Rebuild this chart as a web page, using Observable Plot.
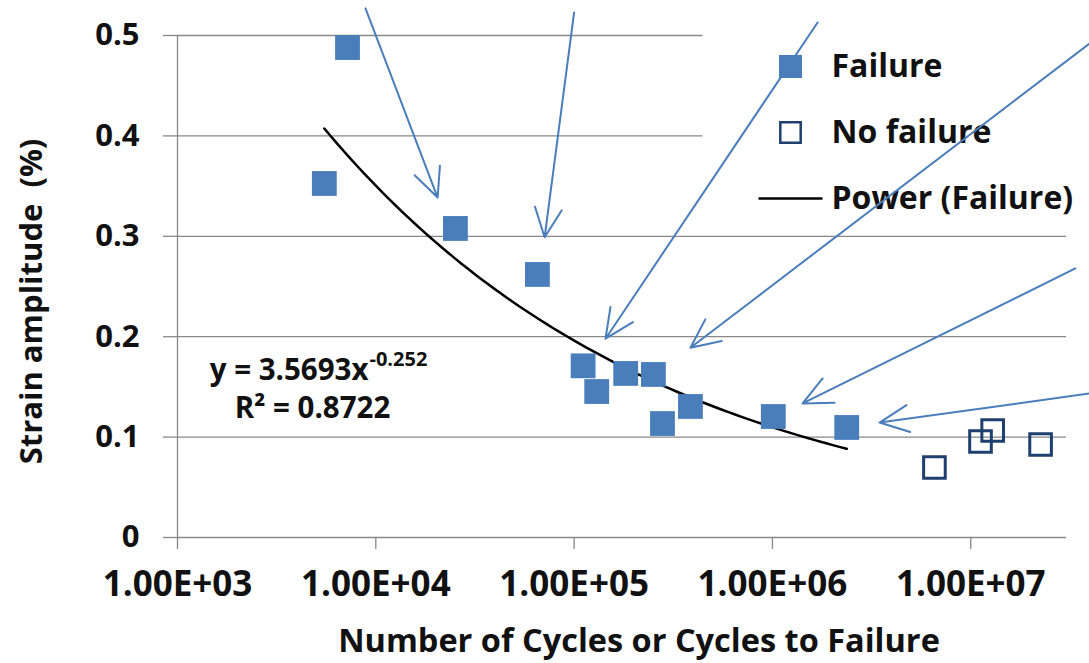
<!DOCTYPE html>
<html>
<head>
<meta charset="utf-8">
<script src="https://cdn.jsdelivr.net/npm/d3@7"></script>
<script src="https://cdn.jsdelivr.net/npm/@observablehq/plot@0.6"></script>
<style>
  html, body { margin: 0; padding: 0; background: #fff; }
  #chart { width: 1089px; height: 663px; overflow: hidden; }
  svg { font-family: "Open Sans", Lato, sans-serif; font-weight: bold; }
</style>
</head>
<body>
<div id="chart"></div>
<script>
// ---- data ----
const failureCycles = [5.5e3, 7.2e3, 2.52e4, 6.53e4, 1.11e5, 1.30e5, 1.82e5, 2.51e5, 2.79e5, 3.86e5, 1.01e6, 2.37e6];
const failureStrain = [0.3526, 0.488, 0.3078, 0.262, 0.171, 0.1454, 0.1634, 0.1624, 0.1135, 0.1305, 0.1205, 0.1096];
const noFailureCycles = [6.56e6, 1.12e7, 1.29e7, 2.25e7];
const noFailureStrain = [0.0697, 0.0956, 0.1066, 0.0926];

// power trendline label values (y = a * x^b)
const trendA = 3.5693;
const trendB = -0.252;
const trendEqMain = "y = 3.5693x";
const trendEqExp = "-0.252";
const trendR2 = "R² = 0.8722";

// annotation arrows (tail -> head), data units
const arrowFromCycles = [8.87e3, 1.0e5, 1.69e6, 3.97e7, 3.37e7, 3.97e7];
const arrowFromStrain = [0.527, 0.523, 0.513, 0.492, 0.268, 0.1434];
const arrowToCycles   = [2.05e4, 7.1e4, 1.44e5, 3.86e5, 1.42e6, 3.47e6];
const arrowToStrain   = [0.3386, 0.299, 0.198, 0.189, 0.1335, 0.1145];

const xTicks = [1e3, 1e4, 1e5, 1e6, 1e7];
const xTickLabels = ["1.00E+03", "1.00E+04", "1.00E+05", "1.00E+06", "1.00E+07"];
const yTicks = [0, 0.1, 0.2, 0.3, 0.4, 0.5];
const yTickLabels = ["0", "0.1", "0.2", "0.3", "0.4", "0.5"];
const xDomain = [1e3, 3.04e7];
const yDomain = [0, 0.5];

const xTitle = "Number of Cycles or Cycles to Failure";
const yTitle = "Strain amplitude  (%)";
const legendLabels = ["Failure", "No failure", "Power (Failure)"];
const legendBox = {x1: 4.47e5, x2: 3.04e7, y1: 0.31, y2: 0.51};

// ---- build tables ----
const failure = failureCycles.map((n, i) => ({n, s: failureStrain[i]}));
const noFailure = noFailureCycles.map((n, i) => ({n, s: noFailureStrain[i]}));
const arrows = arrowFromCycles.map((n, i) => ({
  x1: n, y1: arrowFromStrain[i], x2: arrowToCycles[i], y2: arrowToStrain[i]
}));
const nMin = d3.min(failureCycles), nMax = d3.max(failureCycles);
const trend = d3.range(0, 81).map(k => {
  const n = Math.exp(Math.log(nMin) + (Math.log(nMax) - Math.log(nMin)) * k / 80);
  return {n, s: trendA * Math.pow(n, trendB)};
});

const blue = "#4a7ebb";
const darkBlue = "#1f3f6e";
const grid = "#888888";
const ink = "#111111";
const lineSymbol = {draw(ctx) { ctx.moveTo(-32, 0); ctx.lineTo(32, 0); }};
const font = "'Open Sans', Lato, sans-serif";

const legendText = (label, dy) => Plot.text([label], {
  frameAnchor: "top-right", dx: -235, dy, fontSize: 32,
  textAnchor: "start", lineAnchor: "middle", fill: ink
});

const chart = Plot.plot({
  width: 1089,
  height: 663,
  marginLeft: 177,
  marginRight: 23,
  marginTop: 35,
  marginBottom: 126,
  x: {type: "log", domain: xDomain},
  y: {domain: yDomain},
  style: {background: "#fff", color: ink, fontFamily: font},
  marks: [
    Plot.gridY(yTicks, {stroke: grid, strokeOpacity: 1, strokeWidth: 1.3}),
    Plot.ruleX([xDomain[0]], {stroke: grid, strokeWidth: 1.3}),
    Plot.axisY(yTicks, {
      tickSize: 14, tickPadding: 24, fontSize: 31, stroke: grid, strokeWidth: 1.3,
      fill: ink, tickFormat: d => yTickLabels[yTicks.indexOf(d)]
    }),
    Plot.axisX(xTicks, {
      tickSize: 12, tickPadding: 22, fontSize: 35, stroke: grid, strokeWidth: 1.3,
      fill: ink, tickFormat: d => xTickLabels[xTicks.indexOf(d)]
    }),
    Plot.text([yTitle], {
      frameAnchor: "left", rotate: -90, dx: -145, dy: 15, fontSize: 31,
      textAnchor: "middle", lineAnchor: "middle", fill: ink
    }),
    Plot.text([xTitle], {
      frameAnchor: "bottom", dx: 17, dy: 104, fontSize: 32.5,
      textAnchor: "middle", lineAnchor: "middle", fill: ink
    }),
    // legend background
    Plot.rect([legendBox], {x1: "x1", x2: "x2", y1: "y1", y2: "y2", fill: "#fff"}),
    // trend line
    Plot.line(trend, {x: "n", y: "s", stroke: "#000", strokeWidth: 2.5}),
    // data
    Plot.dot(failure, {x: "n", y: "s", symbol: "square", r: 14, fill: blue, stroke: "none"}),
    Plot.dot(noFailure, {x: "n", y: "s", symbol: "square", r: 12.2, fill: "none", stroke: darkBlue, strokeWidth: 3}),
    // legend
    Plot.dot([legendLabels[0]], {frameAnchor: "top-right", dx: -276, dy: 31, symbol: "square", r: 13, fill: blue, stroke: "none"}),
    Plot.dot([legendLabels[1]], {frameAnchor: "top-right", dx: -276, dy: 97, symbol: "square", r: 11.5, fill: "none", stroke: darkBlue, strokeWidth: 2.5}),
    Plot.dot([legendLabels[2]], {frameAnchor: "top-right", dx: -276, dy: 163, symbol: lineSymbol, r: 5, fill: "none", stroke: "#000", strokeWidth: 2.5}),
    legendText(legendLabels[0], 31),
    legendText(legendLabels[1], 97),
    legendText(legendLabels[2], 163),
    // trendline label
    Plot.text([trendEqMain], {frameAnchor: "top-left", dx: 191, dy: 344, fontSize: 29.5, textAnchor: "end", lineAnchor: "bottom", fill: ink}),
    Plot.text([trendEqExp], {frameAnchor: "top-left", dx: 192, dy: 330, fontSize: 20, textAnchor: "start", lineAnchor: "bottom", fill: ink}),
    Plot.text([trendR2], {frameAnchor: "top-left", dx: 135, dy: 382, fontSize: 29.5, textAnchor: "middle", lineAnchor: "bottom", fill: ink}),
    // annotation arrows
    Plot.arrow(arrows, {x1: "x1", y1: "y1", x2: "x2", y2: "y2", stroke: blue, strokeWidth: 2, headLength: 24, headAngle: 50})
  ]
});
document.getElementById("chart").appendChild(chart);
</script>
</body>
</html>
